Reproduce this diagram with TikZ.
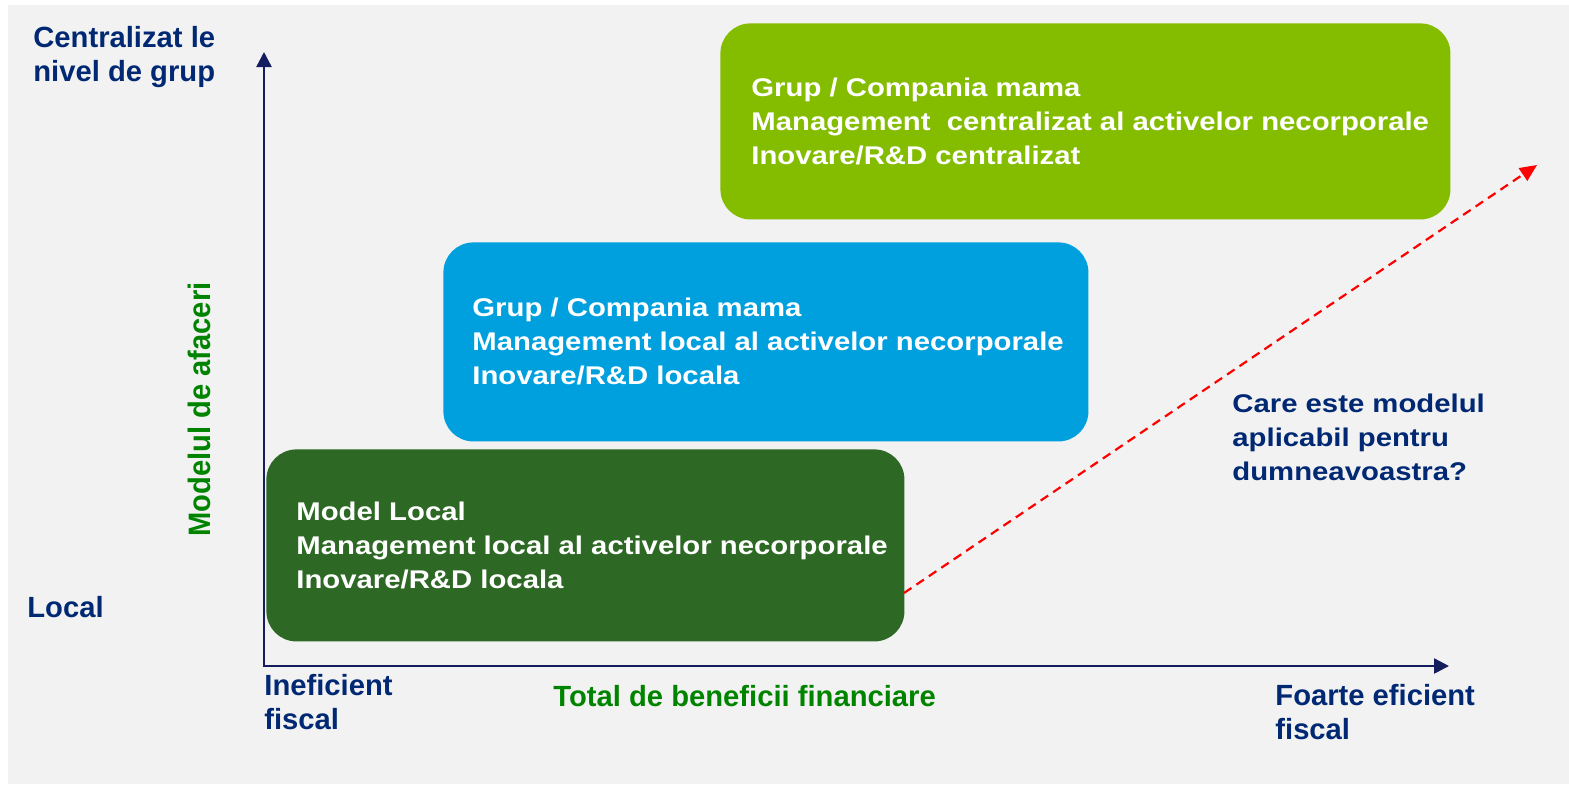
\documentclass[tikz,border=0pt]{standalone}
\usepackage{fontspec}
\setmainfont{Liberation Sans}
\newfontfamily\panelfont{Liberation Sans}[FakeStretch=1.145]
\newfontfamily\sidefont{Liberation Sans}[FakeStretch=0.94]
\usetikzlibrary{arrows.meta,positioning}
\definecolor{bggray}{RGB}{242,242,242}
\definecolor{navy}{RGB}{0,40,115}
\definecolor{axisnavy}{RGB}{20,30,95}
\definecolor{lime}{RGB}{132,189,0}
\definecolor{sky}{RGB}{0,160,222}
\definecolor{forest}{RGB}{45,105,36}
\definecolor{leaf}{RGB}{0,132,0}
\tikzset{
	panel/.style={rounded corners=15pt,inner sep=0pt,anchor=north west},
	paneltext/.style={text=white,inner sep=0pt,align=left,font=\panelfont\bfseries\fontsize{12.8pt}{17pt}\selectfont},
	axislabel/.style={text=navy,inner sep=0pt,align=left,font=\bfseries\fontsize{14.6pt}{17pt}\selectfont},
	query/.style={red,dashed,dash pattern=on 4.5pt off 3pt,line width=1.1pt,-{Triangle[length=8.5pt,width=7.5pt]}}
}

\begin{document}
\begin{tikzpicture}[x=0.5pt,y=-0.5pt,>={Triangle[length=7.5pt,width=7.5pt]}]
	\useasboundingbox (0,0) rectangle (1569,784);
	\fill[white] (0,0) rectangle (1569,784);
	\fill[bggray] (8,5) rectangle (1569,784);
	% the three models
	\node[panel,fill=lime,minimum width=365pt,minimum height=98pt] (grpbox) at (720,23) {};
	\node[panel,fill=sky,minimum width=322.5pt,minimum height=99.5pt] (locbox) at (443,242) {};
	\node[panel,fill=forest,minimum width=319pt,minimum height=96pt] (lclbox) at (266,449) {};
	\node[paneltext,right=15.5pt of grpbox.west] (grptxt) {Grup / Compania mama\\Management\ \ centralizat al activelor necorporale\\Inovare/R\&D centralizat};
	\node[paneltext,right=14.5pt of locbox.west] (loctxt) {Grup / Compania mama\\Management local al activelor necorporale\\Inovare/R\&D locala};
	\node[paneltext,right=15pt of lclbox.west] (lcltxt) {Model Local\\Management local al activelor necorporale\\Inovare/R\&D locala};
	% axes
	\coordinate (o) at (264,666);
	\coordinate (ytop) at (264,52);
	\coordinate (xend) at (1449,666);
	\draw[<->,axisnavy,line width=1.25pt] (ytop) -- (o) -- (xend);
	\node[axislabel,anchor=west] (ytoplbl) at (33,57) {Centralizat le\\nivel de grup};
	\node[axislabel,anchor=base west] (ylowlbl) at (27,617) {Local};
	\node[axislabel,anchor=west] (xlowlbl) at (264,702) {Ineficient\\fiscal};
	\node[axislabel,anchor=west] (xhighlbl) at (1275,712) {Foarte eficient\\fiscal};
	\node[axislabel,text=leaf,anchor=base west] (xname) at (553,706) {Total de beneficii financiare};
	\node[text=leaf,inner sep=0pt,rotate=90,anchor=base west,font=\sidefont\bfseries\fontsize{15.5pt}{17pt}\selectfont] (yname) at (210,537) {Modelul de afaceri};
	% which model
	\coordinate (q0) at (904,593);
	\coordinate (q1) at (1537,165);
	\draw[query] (q0) -- (q1);
	\node[paneltext,text=navy,anchor=west] (question) at (1232,437) {Care este modelul\\aplicabil pentru\\dumneavoastra?};
\end{tikzpicture}
\end{document}
